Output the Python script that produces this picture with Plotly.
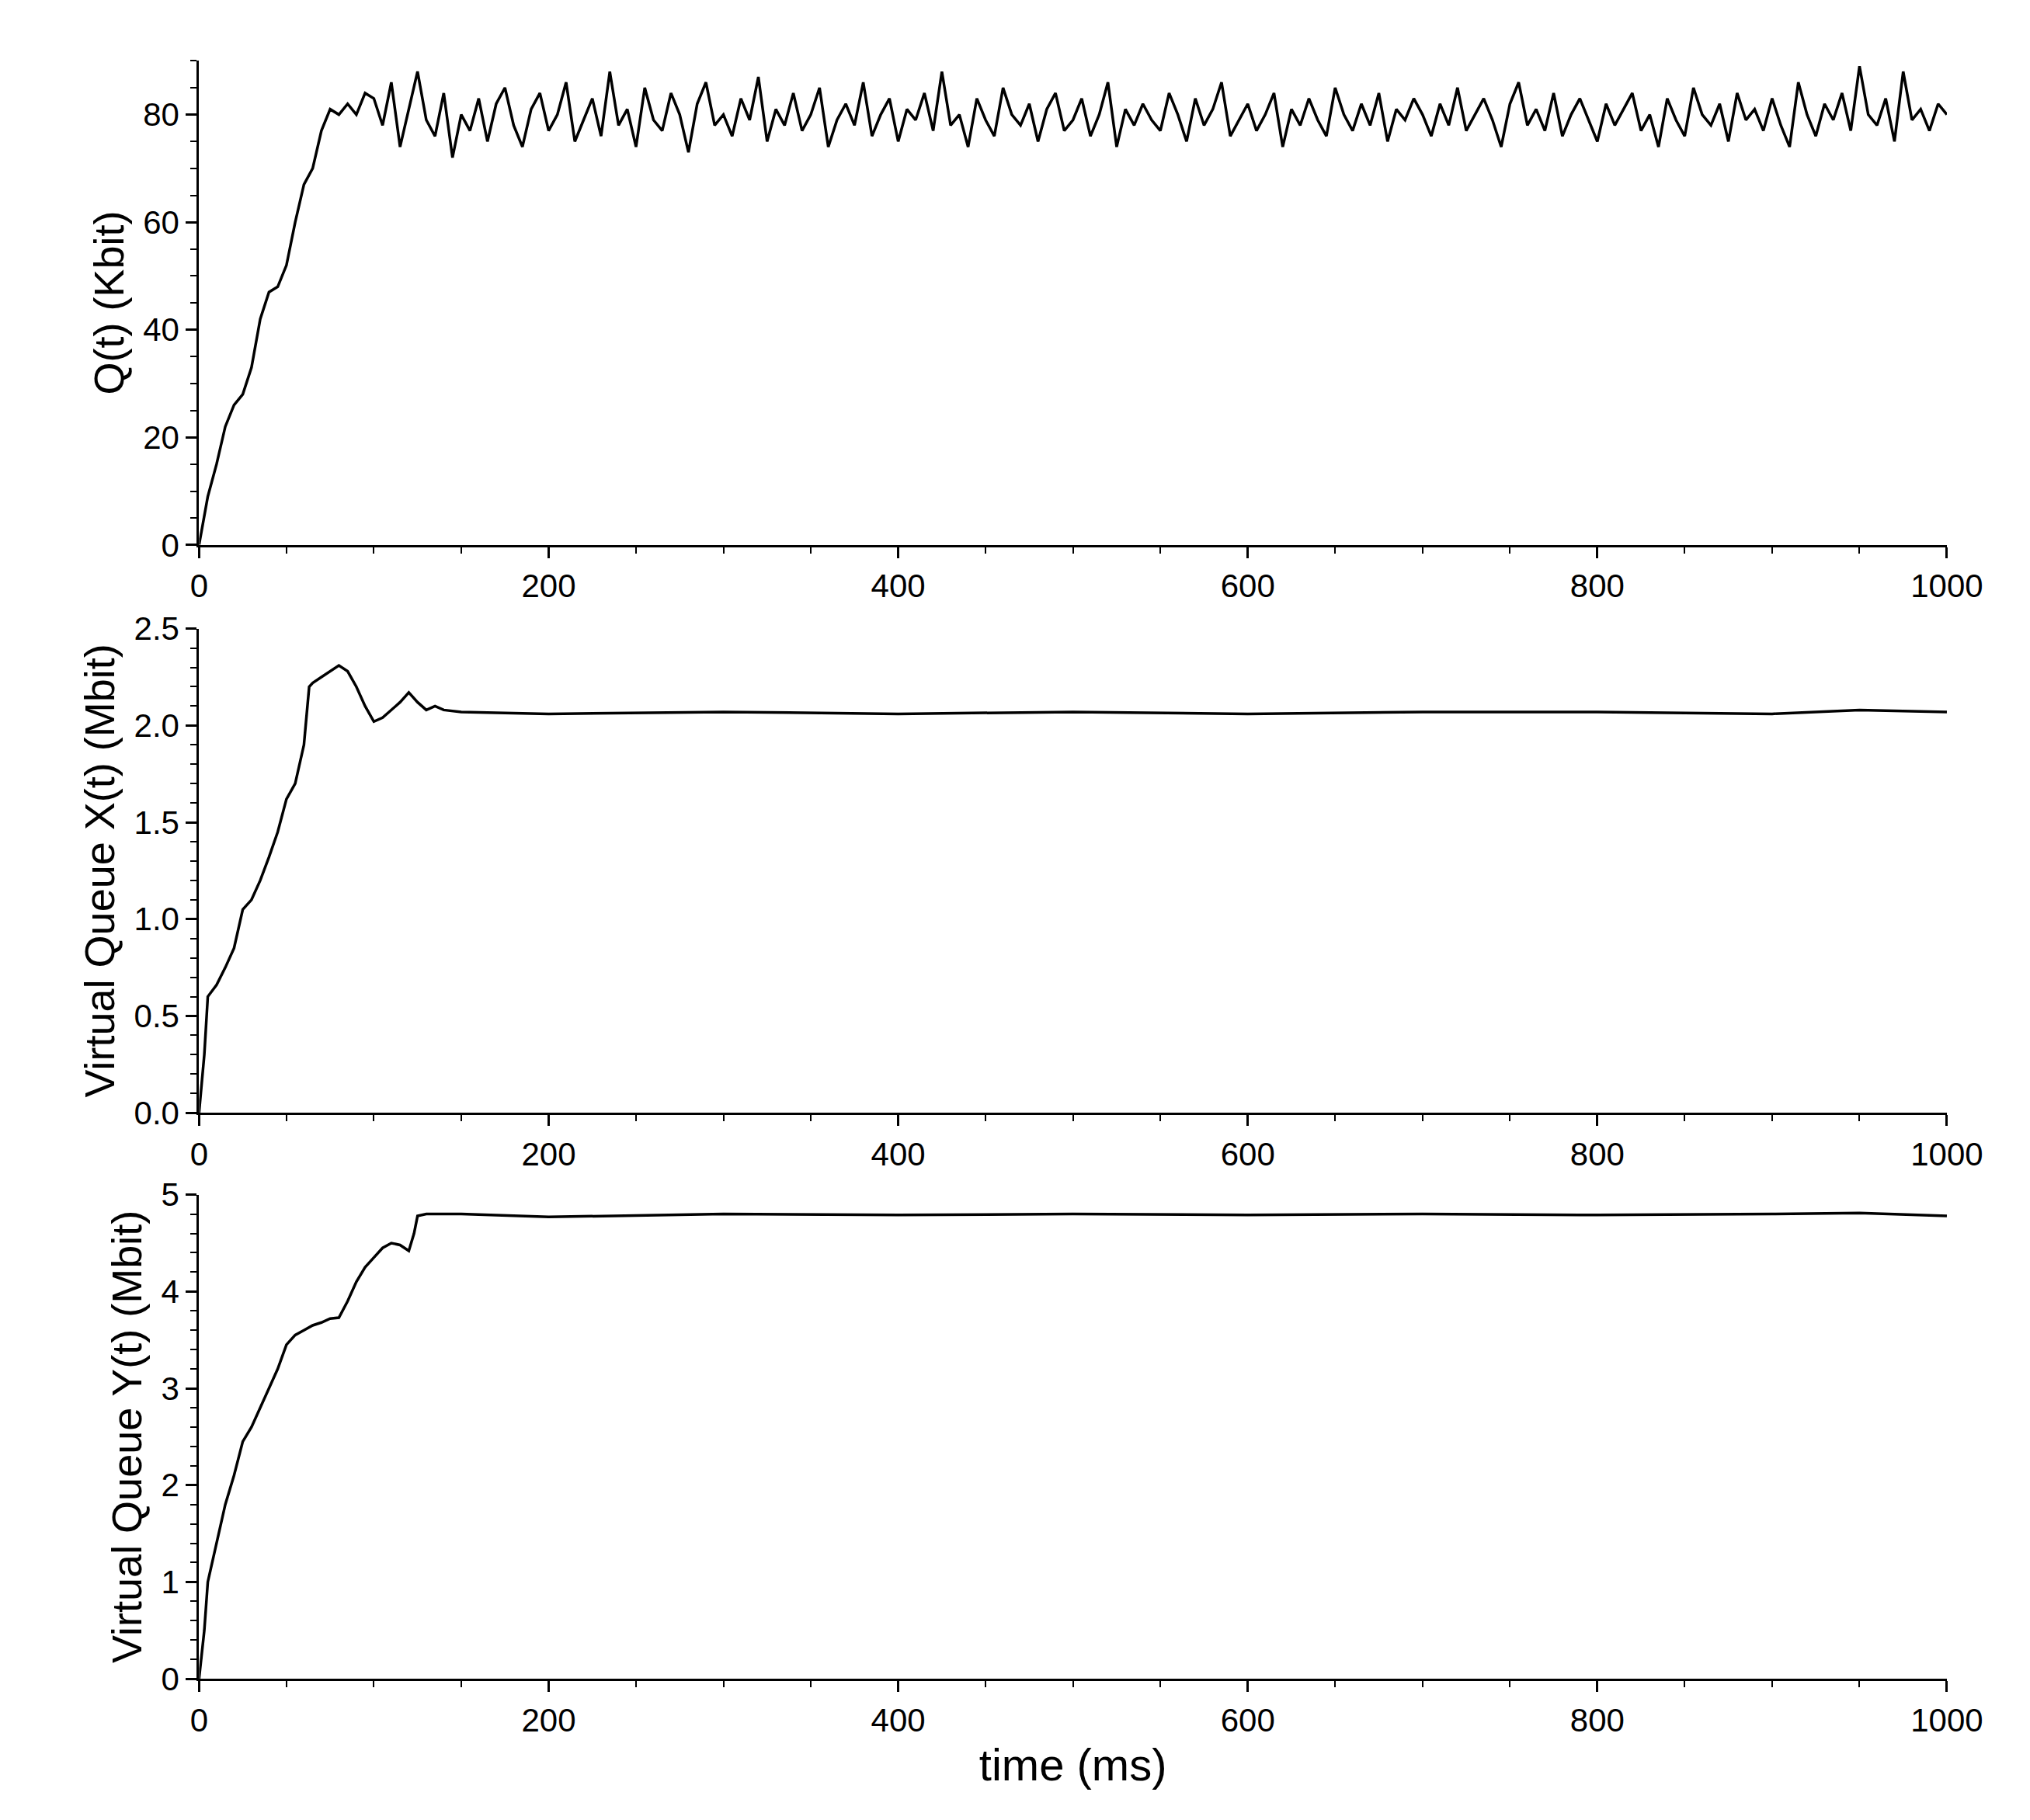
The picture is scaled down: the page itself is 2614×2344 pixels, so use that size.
import plotly.graph_objects as go
from plotly.subplots import make_subplots

# Q(t) in Kbit
q_time = [0, 5, 10, 15, 20, 25, 30, 35, 40, 45, 50, 55, 60, 65, 70, 75, 80, 85, 90, 95]
q_vals = [0, 9, 15, 22, 26, 28, 33, 42, 47, 48, 52, 60, 67, 70, 77, 81, 80, 82, 80, 84]
q_noise = [83, 78, 86, 74, 81, 88, 79, 76, 84, 72, 80, 77, 83, 75, 82, 85, 78, 74, 81, 84,
           77, 80, 86, 75, 79, 83, 76, 88, 78, 81, 74, 85, 79, 77, 84, 80, 73, 82, 86, 78,
           80, 76, 83, 79, 87, 75, 81, 78, 84, 77, 80, 85, 74, 79, 82, 78, 86, 76, 80, 83,
           75, 81, 79, 84, 77, 88, 78, 80, 74, 83, 79, 76, 85, 80, 78, 82, 75, 81, 84, 77,
           79, 83, 76, 80, 86, 74, 81, 78, 82, 79, 77, 84, 80, 75, 83, 78, 81, 86, 76, 79,
           82, 77, 80, 84, 74, 81, 78, 83, 79, 76, 85, 80, 77, 82, 78, 84, 75, 81, 79, 83,
           80, 76, 82, 78, 85, 77, 80, 83, 79, 74, 82, 86, 78, 81, 77, 84, 76, 80, 83, 79,
           75, 82, 78, 81, 84, 77, 80, 74, 83, 79, 76, 85, 80, 78, 82, 75, 84, 79, 81, 77,
           83, 78, 74, 86, 80, 76, 82, 79, 84, 77, 89, 80, 78, 83, 75, 88, 79, 81, 77, 82,
           80]
q_time = q_time + [100 + 5 * i for i in range(len(q_noise))]
q_vals = q_vals + q_noise

# X(t) in Mbit
x_time = [0, 3, 5, 10, 15, 20, 25, 30, 35, 40, 45, 50, 55, 60, 63, 65, 70, 75, 80, 85, 90,
          95, 100, 105, 110, 115, 120, 125, 130, 135, 140, 150, 200, 300, 400, 500, 600,
          700, 800, 900, 950, 1000]
x_vals = [0, 0.3, 0.6, 0.66, 0.75, 0.85, 1.05, 1.1, 1.2, 1.32, 1.45, 1.62, 1.7, 1.9, 2.2,
          2.22, 2.25, 2.28, 2.31, 2.28, 2.2, 2.1, 2.02, 2.04, 2.08, 2.12, 2.17, 2.12, 2.08,
          2.1, 2.08, 2.07, 2.06, 2.07, 2.06, 2.07, 2.06, 2.07, 2.07, 2.06, 2.08, 2.07]

# Y(t) in Mbit
y_time = [0, 3, 5, 10, 15, 20, 25, 30, 35, 40, 45, 50, 55, 60, 65, 70, 75, 80, 85, 90, 95,
          100, 105, 110, 115, 120, 123, 125, 130, 150, 200, 300, 400, 500, 600, 700, 800,
          900, 950, 1000]
y_vals = [0, 0.5, 1.0, 1.4, 1.8, 2.1, 2.45, 2.6, 2.8, 3.0, 3.2, 3.45, 3.55, 3.6, 3.65,
          3.68, 3.72, 3.73, 3.9, 4.1, 4.25, 4.35, 4.45, 4.5, 4.48, 4.42, 4.6, 4.78, 4.8,
          4.8, 4.77, 4.8, 4.79, 4.8, 4.79, 4.8, 4.79, 4.8, 4.81, 4.78]

fig = make_subplots(rows=3, cols=1)
fig.add_trace(go.Scatter(x=q_time, y=q_vals, mode="lines", line=dict(color="black", width=3.5)), 1, 1)
fig.add_trace(go.Scatter(x=x_time, y=x_vals, mode="lines", line=dict(color="black", width=3.5)), 2, 1)
fig.add_trace(go.Scatter(x=y_time, y=y_vals, mode="lines", line=dict(color="black", width=3.5)), 3, 1)

font = dict(family="Liberation Sans, Arial", size=42, color="black")
axis_style = dict(showline=True, linecolor="black", linewidth=3, ticks="outside",
                  ticklen=14, tickwidth=3, tickcolor="black", showgrid=False,
                  zeroline=False, tickfont=font, automargin=False,
                  minor=dict(ticks="outside", ticklen=8, tickwidth=2, tickcolor="black"))

domains = [[0.704, 0.970], [0.392, 0.658], [0.081, 0.347]]
yranges = [[0, 90], [0, 2.5], [0, 5]]
ydticks = [20, 0.5, 1]
yformats = ["", ".1f", ""]
titles = ["Q(t) (Kbit)", "Virtual Queue X(t) (Mbit)", "Virtual Queue Y(t) (Mbit)"]
for i in range(3):
    n = "" if i == 0 else str(i + 1)
    fig.layout["xaxis" + n].update(domain=[0.095, 0.956], range=[0, 1000], dtick=200,
                                   anchor="y" + n, **axis_style)
    fig.layout["yaxis" + n].update(domain=domains[i], range=yranges[i], dtick=ydticks[i],
                                   tickformat=yformats[i],
                                   title=dict(text=titles[i], font=dict(family=font["family"], size=54, color="black"), standoff=8),
                                   **axis_style)
fig.layout.xaxis3.title = dict(text="time (ms)", font=dict(family=font["family"], size=58, color="black"))

fig.update_layout(width=2614, height=2344, showlegend=False, plot_bgcolor="white",
                  paper_bgcolor="white", margin=dict(l=0, r=0, t=0, b=0))
fig.write_html("out.html")
